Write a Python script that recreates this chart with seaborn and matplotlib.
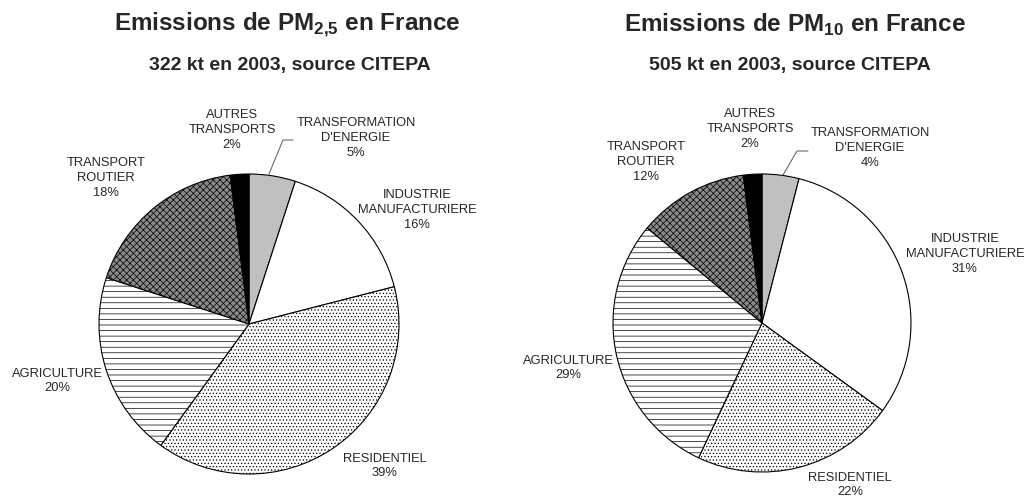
import numpy as np
import matplotlib
matplotlib.use("Agg")
import matplotlib.pyplot as plt
import seaborn as sns

## Data
sectors = ["TRANSFORMATION\nD'ENERGIE", "INDUSTRIE\nMANUFACTURIERE", "RESIDENTIEL",
           "AGRICULTURE", "TRANSPORT\nROUTIER", "AUTRES\nTRANSPORTS"]
pm25_share = [5, 16, 39, 20, 18, 2]
pm10_share = [4, 31, 22, 29, 12, 2]
titles = [r"Emissions de PM$_\mathbf{2{,}5}$ en France", r"Emissions de PM$_\mathbf{10}$ en France"]
subtitles = ["322 kt en 2003, source CITEPA", "505 kt en 2003, source CITEPA"]

## Style
sns.set_theme(style="white")
plt.rcParams['font.family'] = ['Liberation Sans', 'DejaVu Sans']
plt.rcParams['mathtext.fontset'] = 'custom'
plt.rcParams['mathtext.rm'] = 'Liberation Sans'
plt.rcParams['mathtext.bf'] = 'Liberation Sans:bold'
plt.rcParams['hatch.linewidth'] = 0.5
face = ["#c0c0c0", "white", "white", "white", "#8a8a8a", "black"]
hatches = [None, None, ".....", "---", "xxxxx", None]

W, H = 1029, 501
fig = plt.figure(figsize=(W / 100, H / 100), dpi=100)
ax = fig.add_axes([0, 0, 1, 1])

# layout in pixel coords (y from top)
pies = [
    dict(vals=pm25_share, cx=249, cy=324, r=150, tx=287, sx=290,
         lab=[(356, 138), (417, 210), (385, 466), (57, 381), (106, 178), (232, 130)],
         leader=[(269, 174), (283, 140), (293, 140)]),
    dict(vals=pm10_share, cx=762, cy=323, r=149, tx=795, sx=790,
         lab=[(870, 148), (965, 254), (850, 485), (568, 368), (646, 162), (750, 129)],
         leader=[(783, 175), (797, 151), (808, 151)]),
]

for i, p in enumerate(pies):
    wedges, _ = ax.pie(p["vals"], center=(p["cx"], H - p["cy"]), radius=p["r"],
                       startangle=90, counterclock=False, colors=face,
                       wedgeprops=dict(edgecolor="black", linewidth=0.8))
    for w, h in zip(wedges, hatches):
        if h:
            w.set_hatch(h)
    for name, v, (lx, ly) in zip(sectors, p["vals"], p["lab"]):
        ax.text(lx, H - ly, f"{name}\n{v}%", ha="center", va="center",
                fontsize=9.3, linespacing=1.3)
    lx_, ly_ = zip(*p["leader"])
    ax.plot(lx_, [H - y for y in ly_], color="#555555", lw=0.7)
    ax.text(p["tx"], H - 25, titles[i], ha="center", va="center",
            fontsize=17.5, fontweight="bold")
    ax.text(p["sx"], H - 65, subtitles[i], ha="center", va="center",
            fontsize=14, fontweight="bold")

ax.set_xlim(0, W)
ax.set_ylim(0, H)
ax.set_aspect("auto")
ax.axis("off")

plt.savefig("out.png", dpi=100)
